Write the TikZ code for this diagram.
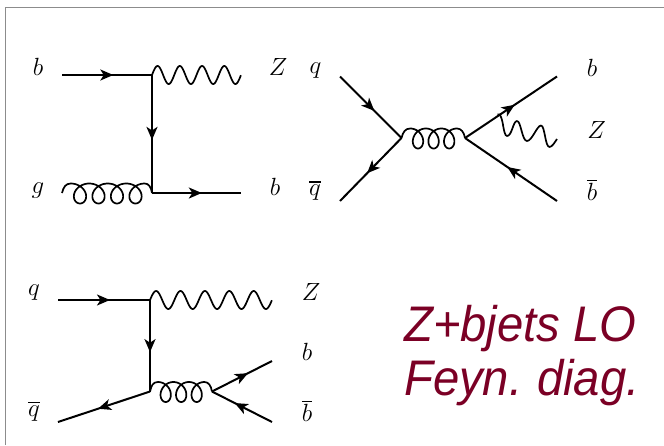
\documentclass[tikz,border=0pt]{standalone}
\usepackage{fontspec}
\setmainfont{Liberation Sans}
\usetikzlibrary{arrows.meta,decorations.markings,calc}
\definecolor{wine}{HTML}{7B0025}
\definecolor{framegray}{HTML}{8C8C8C}
\tikzset{
  fermion/.style={line width=2pt,postaction={decorate},decoration={markings,mark=at position #1 with {\arrow{Stealth[length=13pt,width=11pt,inset=3.5pt]}}}},
  fermion/.default=0.57,
  wave/.style={line width=1.7pt,line join=round},
  lbl/.style={inner sep=0pt,anchor=base,font=\fontsize{27.5}{30}\selectfont},
  titletext/.style={inner sep=0pt,anchor=base west,text=wine,font=\fontsize{50}{56}\selectfont\itshape},
}
\newcommand{\ovbar}[1]{\vbox{\hrule height 1.1pt \kern 2pt \hbox{$#1$}}}
% photon: from a to b (horizontal), n periods, amplitude
\newcommand{\photonline}[4]{%
  \path let \p1=(#1), \p2=(#2) in
    \pgfextra{\xdef\pax{\x1}\xdef\pay{\y1}\xdef\pbx{\x2}};
  \begin{scope}[x=1pt,y=1pt]
  \pgfmathsetmacro{\pl}{\pbx-\pax}
  \draw[wave] plot[domain=0:1,samples=200,variable=\t]
      ({\pax+\pl*\t},{\pay+#4*sin(360*#3*\t)});
  \end{scope}}
% gluon: horizontal, from a to b, first-centre offset, spacing, count
\newcommand{\gluonline}[5]{%
  \path let \p1=(#1), \p2=(#2) in
    \pgfextra{\xdef\gax{\x1}\xdef\gay{\y1}\xdef\gbx{\x2}\xdef\gby{\y2}};
  \begin{scope}[x=1pt,y=1pt]
  \pgfmathsetmacro{\gv}{#4/(2*pi)}
  \pgfmathsetmacro{\ga}{0.56*#4}
  \pgfmathsetmacro{\gtop}{\gay+9.5}
  \pgfmathsetmacro{\gx}{\gax+#3-#4/2}
  \pgfmathsetmacro{\gxe}{\gx+#5*#4}
  \pgfmathsetmacro{\gend}{2*pi*#5}
  \draw[wave] (#1) .. controls ($(#1)+(1.5,6)$) and ($(\gx,\gtop)+(-5,0)$) .. (\gx,\gtop)
    -- plot[domain=0:\gend,samples=160,variable=\t]
      ({\gx+\gv*\t+\ga*sin(\t r)},{\gtop-10*(1-cos(\t r))})
    -- (\gxe,\gtop) .. controls ($(\gxe,\gtop)+(4,0)$) and ($(#2)+(-1,6)$) .. (#2);
  \end{scope}}
\begin{document}
\begin{tikzpicture}[x=1pt,y=-1pt]
\useasboundingbox (0,0) rectangle (664,445);
\fill[white] (0,0) rectangle (664,445);
\draw[framegray,line width=0.9pt] (5.5,445) -- (5.5,7.5) -- (664,7.5);

% Diagram 1
\coordinate (a1) at (62,75);
\coordinate (a2) at (152,75);
\coordinate (a3) at (241,75);
\coordinate (a4) at (62,193);
\coordinate (a5) at (152,193);
\coordinate (a6) at (241,193);
\draw[fermion] (a1) -- (a2);
\draw[fermion=0.55] (a2) -- (a5);
\draw[fermion=0.56] (a5) -- (a6);
\photonline{a2}{a3}{4}{9}
\gluonline{a4}{a5}{18}{18.5}{4}
\node[lbl] (tb) at (38,75) {$b$};
\node[lbl] (tz) at (278,75) {$Z$};
\node[lbl] (tg) at (38,193) {$g$};
\node[lbl] (tb2) at (275,195) {$b$};

% Diagram 2
\coordinate (b1) at (340,76.5);
\coordinate (b2) at (401.5,138);
\coordinate (b3) at (340,201);
\coordinate (b4) at (465,138);
\coordinate (b5) at (557,76.5);
\coordinate (b6) at (557,201);
\coordinate (bz) at (497.5,114.5);
\coordinate (bze) at (557,139);
\draw[fermion=0.56] (b1) -- (b2);
\draw[fermion=0.56] (b2) -- (b3);
\draw[fermion=0.54] (b4) -- (b5);
\draw[fermion=0.54] (b6) -- (b4);
\gluonline{b2}{b4}{16.5}{15.6}{3}
\draw[wave] (bz) .. controls (500,113.5) and (501,116) .. (502.5,122)
  .. controls (504,131) and (505,136) .. (507,136)
  .. controls (512,136) and (513,121) .. (517,121)
  .. controls (521,121) and (522,141) .. (527,141)
  .. controls (532,141) and (537,125.5) .. (541,125.5)
  .. controls (545,125.5) and (545,147) .. (549.5,147)
  .. controls (552,147) and (555,142) .. (bze);
\node[lbl] (tq) at (315.5,73.6) {$q$};
\node[lbl] (tqb) at (315,195.3) {\ovbar{q}};
\node[lbl] (tb3) at (592,76.3) {$b$};
\node[lbl] (tz2) at (596.7,138.3) {$Z$};
\node[lbl] (tbb) at (592,200) {\ovbar{b}};

% Diagram 3
\coordinate (c1) at (58,300);
\coordinate (c2) at (150,300);
\coordinate (c3) at (272,300);
\coordinate (c4) at (150,391.5);
\coordinate (c5) at (58,422);
\coordinate (c6) at (212,391.5);
\coordinate (c7) at (272,361);
\coordinate (c8) at (272,422);
\draw[fermion=0.565] (c1) -- (c2);
\draw[fermion] (c2) -- (c4);
\draw[fermion=0.565] (c4) -- (c5);
\draw[fermion=0.6] (c6) -- (c7);
\draw[fermion=0.62] (c8) -- (c6);
\photonline{c2}{c3}{5}{9}
\gluonline{c4}{c6}{15.7}{15.5}{3}
\node[lbl] (tq3) at (34,295.3) {$q$};
\node[lbl] (tz3) at (311,300) {$Z$};
\node[lbl] (tb4) at (307,360) {$b$};
\node[lbl] (tqb3) at (34,416) {\ovbar{q}};
\node[lbl] (tbb3) at (307,421) {\ovbar{b}};

% Title
\node[titletext] (t1) at (404,341.7) {\scalebox{0.945}[1]{Z+bjets LO}};
\node[titletext] (t2) at (404,395) {\scalebox{0.945}[1]{Feyn.\hspace{-3pt} diag.}};
\end{tikzpicture}
\end{document}
